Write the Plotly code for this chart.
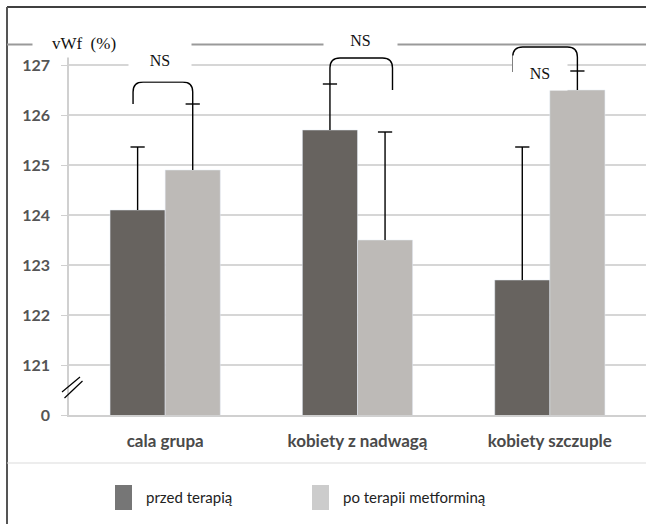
import plotly.graph_objects as go

# --- data -------------------------------------------------------------
groups = ["cala grupa", "kobiety z nadwagą", "kobiety szczuple"]
series_names = ["przed terapią", "po terapii metforminą"]
before_vals = [124.1, 125.7, 122.7]
after_vals = [124.9, 123.5, 126.5]
before_err_up = [1.26, 0.92, 2.66]
after_err_up = [1.32, 2.16, 0.38]
y_tick_vals = [120, 121, 122, 123, 124, 125, 126, 127]
y_tick_text = ["0", "121", "122", "123", "124", "125", "126", "127"]
sig_labels = ["NS", "NS", "NS"]

DARK = "#67635f"
LIGHT = "#bdbab7"

# --- figure geometry (pixels) ------------------------------------------
W, H = 646, 524
L, R, T, B = 69, 0, 44, 109
PW, PH = W - L - R, H - T - B
Y_MIN, Y_MAX = 120, 127.42
BARGAP = 0.427


def px_x(p):
    return (p - L) / PW


def px_y(p):
    return (T + PH - p) / PH


def val_y(v):
    return (v - Y_MIN) / (Y_MAX - Y_MIN)


x_pos = list(range(len(groups)))

fig = go.Figure()
fig.add_trace(go.Bar(x=x_pos, y=before_vals, name=series_names[0], marker_color=DARK))
fig.add_trace(go.Bar(x=x_pos, y=after_vals, name=series_names[1], marker_color=LIGHT))

# upward-only error bars (stem + cap) centred on each grouped bar
half = (1 - BARGAP) / 4
cap = 0.037
ex, ey = [], []
for offset, vals, errs in [(-half, before_vals, before_err_up), (half, after_vals, after_err_up)]:
    for i, (v, e) in enumerate(zip(vals, errs)):
        xc = i + offset
        ex += [xc, xc, None, xc - cap, xc + cap, None]
        ey += [v, v + e, None, v + e, v + e, None]
fig.add_trace(go.Scatter(x=ex, y=ey, mode="lines", hoverinfo="skip",
                         line=dict(color="black", width=1.4), cliponaxis=False))

shapes = []
annotations = []

# significance brackets: (left offset, right offset, top, left end, right end)
brackets = [
    (-0.167, half, 126.66, 126.22, 126.22),
    (-half, 0.182, 127.14, 126.62, 126.50),
    (-0.193, half, 127.36, 126.86, 126.88),
]
rx, ry = 0.052, 0.2
for i, (xl, xr, yt, yl, yr) in enumerate(brackets):
    a, b = i + xl, i + xr
    path = (f"M {a},{yl} L {a},{yt - ry} Q {a},{yt} {a + rx},{yt} "
            f"L {b - rx},{yt} Q {b},{yt} {b},{yt - ry} L {b},{yr}")
    shapes.append(dict(type="path", path=path, xref="x", yref="y",
                       line=dict(color="black", width=1.4), layer="above"))

# NS labels on white boxes (x in category units, y in value units)
ns_pos = [(-0.026, 127.1, 60, 40), (1.016, 127.5, 71, 26), (1.948, 126.84, 52, 32)]
for lab, (x, y, w, h) in zip(sig_labels, ns_pos):
    annotations.append(dict(x=x, y=val_y(y), xref="x", yref="paper", text=lab,
                            xanchor="center", yanchor="middle",
                            showarrow=False, bgcolor="white", width=w, height=h,
                            font=dict(family="Liberation Serif", size=16, color="#111")))

# outer frame and rules
shapes += [
    dict(type="line", xref="paper", yref="paper", x0=px_x(7), x1=px_x(W),
         y0=px_y(7), y1=px_y(7), line=dict(color="black", width=1.5)),
    dict(type="line", xref="paper", yref="paper", x0=px_x(7), x1=px_x(7),
         y0=px_y(7), y1=px_y(H), line=dict(color="#555", width=2)),
    dict(type="line", xref="paper", yref="paper", x0=px_x(7), x1=px_x(W),
         y0=px_y(44.5), y1=px_y(44.5), line=dict(color="#9a9a9a", width=2)),
    dict(type="line", xref="paper", yref="paper", x0=px_x(7), x1=px_x(W),
         y0=px_y(463), y1=px_y(463), line=dict(color="#dcdcdc", width=1.2)),
]

# axis break marks
for (x0, y0, x1, y1) in [(62, 392, 80, 377), (64.5, 398, 82.5, 381)]:
    shapes.append(dict(type="line", xref="paper", yref="paper",
                       x0=px_x(x0), y0=px_y(y0), x1=px_x(x1), y1=px_y(y1),
                       line=dict(color="black", width=1.2), layer="above"))

# axis title
annotations.append(dict(x=px_x(84), y=px_y(43), xref="paper", yref="paper",
                        xanchor="center", yanchor="middle",
                        text="vWf  (%)", showarrow=False, bgcolor="white",
                        width=100, height=26,
                        font=dict(family="Liberation Serif", size=17, color="#111")))

# legend
for color, x0, name in [("#767676", 115, series_names[0]), ("#cccccc", 312, series_names[1])]:
    shapes.append(dict(type="rect", xref="paper", yref="paper",
                       x0=px_x(x0), x1=px_x(x0 + 17), y0=px_y(510), y1=px_y(485),
                       fillcolor=color, line=dict(width=0)))
    annotations.append(dict(x=px_x(x0 + 29), y=px_y(497), xref="paper", yref="paper",
                            text=name, showarrow=False, xanchor="left", yanchor="middle",
                            font=dict(family="Lato", size=15, color="#222")))

fig.update_layout(
    width=W, height=H,
    margin=dict(l=L, r=R, t=T, b=B, pad=0),
    paper_bgcolor="white", plot_bgcolor="white",
    barmode="group", bargap=BARGAP, bargroupgap=0,
    showlegend=False,
    shapes=shapes, annotations=annotations,
    xaxis=dict(range=[-0.5, 2.5], tickvals=x_pos, ticktext=groups,
               showgrid=False, zeroline=False, showline=True,
               linecolor="#d0d0d0", linewidth=2, ticks="",
               ticklabelstandoff=10,
               tickfont=dict(family="Lato", size=17, color="#4a4a4a", weight="bold")),
    yaxis=dict(range=[Y_MIN, Y_MAX], tickvals=y_tick_vals, ticktext=y_tick_text,
               showgrid=True, gridcolor="#d6d6d6", gridwidth=1.6,
               zeroline=False, showline=True, linecolor="#d0d0d0", linewidth=1.5,
               ticks="outside", ticklen=6, tickcolor="#d0d0d0",
               ticklabelstandoff=8,
               tickfont=dict(family="Lato", size=16, color="#555", weight="bold")),
)

fig.write_html("out.html")
